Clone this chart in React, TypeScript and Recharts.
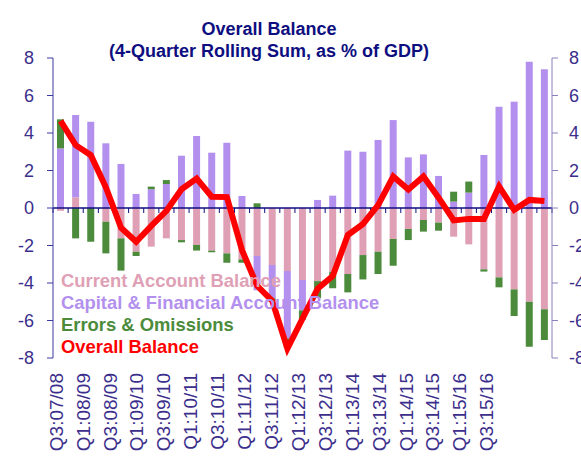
import React from 'react';
import * as Recharts from 'recharts';
import {
  ComposedChart,
  Bar,
  Line,
  XAxis,
  YAxis,
  ReferenceLine,
  Legend,
} from 'recharts';

const quarters = [
  'Q3:07/08', 'Q4:07/08', 'Q1:08/09', 'Q2:08/09', 'Q3:08/09', 'Q4:08/09',
  'Q1:09/10', 'Q2:09/10', 'Q3:09/10', 'Q4:09/10', 'Q1:10/11', 'Q2:10/11',
  'Q3:10/11', 'Q4:10/11', 'Q1:11/12', 'Q2:11/12', 'Q3:11/12', 'Q4:11/12',
  'Q1:12/13', 'Q2:12/13', 'Q3:12/13', 'Q4:12/13', 'Q1:13/14', 'Q2:13/14',
  'Q3:13/14', 'Q4:13/14', 'Q1:14/15', 'Q2:14/15', 'Q3:14/15', 'Q4:14/15',
  'Q1:15/16', 'Q2:15/16', 'Q3:15/16',
];

const currentAccount = [
  -0.15, 0.57, 0.0, -0.73, -1.62, -2.33, -2.06, -1.62, -1.71, -1.97, -2.27,
  -2.42, -2.74, -2.56, -3.04, -3.36, -3.84, -3.9, -3.4, -3.52, -2.51, -2.33,
  -1.65, -1.12, -0.64, -0.78, -1.53, -1.94, -3.27, -3.7, -4.34, -5.0, -5.4,
];

const capitalFinancial = [
  3.18, 4.39, 4.6, 3.45, 2.35, 0.75, 1.0, 1.28, 2.79, 3.84, 2.95,
  3.48, 0.64, -1.83, -1.78, -3.6, -1.62, 0.43, 0.66, 3.06, 3.0, 3.63,
  4.69, 2.7, 2.86, 1.71, 0.34, 0.82, 2.83, 5.4, 5.67, 7.8, 7.4,
];

const errorsOmissions = [
  1.55, -1.62, -1.8, -1.69, -1.72, -0.23, 0.14, 0.21, -0.12, -0.3, -0.09,
  -0.5, -0.18, 0.25, -0.12, -0.5, -0.5, -0.9, -0.88, -0.98, -1.3, -1.19,
  -1.43, -0.59, -0.62, -0.43, 0.53, 0.59, -0.12, -0.53, -1.42, -2.4, -1.64,
];

const overallBalance = [
  4.65, 3.35, 2.82, 1.1, -1.05, -1.8, -0.95, -0.15, 1.0, 1.57, 0.6,
  0.58, -2.25, -4.15, -4.95, -7.5, -5.9, -4.3, -3.63, -1.44, -0.85, 0.15,
  1.68, 0.98, 1.68, 0.55, -0.66, -0.58, -0.58, 1.15, -0.1, 0.43, 0.37,
];

const yTicks = [-8, -6, -4, -2, 0, 2, 4, 6, 8];

const PINK = '#DFA0B5';
const LAVENDER = '#B390EE';
const GREEN = '#4B8B3B';
const RED = '#FF0000';
const NAVY = '#0E0E80';
const TICK_TEXT = '#3B2E8C';
const FONT = 'Arial, "Liberation Sans", sans-serif';

const data = quarters.map((q, i) => ({
  q,
  ca: currentAccount[i],
  ka: capitalFinancial[i],
  eo: errorsOmissions[i],
  overall: overallBalance[i],
}));

const legendItems = [
  { label: 'Current Account Balance', color: PINK },
  { label: 'Capital & Financial Account Balance', color: LAVENDER },
  { label: 'Errors & Omissions', color: GREEN },
  { label: 'Overall Balance', color: RED },
];

const usePlotAreaSafe: () => any = (Recharts as any).usePlotArea ?? (() => null);

// little tick marks on the zero line, one at every category boundary
const ZeroLineTicks = () => {
  const plot = usePlotAreaSafe();
  if (!plot) return null;
  const n = quarters.length;
  const zeroY = plot.y + (plot.height * yTicks[yTicks.length - 1]) / (yTicks[yTicks.length - 1] - yTicks[0]);
  return (
    <g>
      {Array.from({ length: n + 1 }, (_, i) => {
        const x = plot.x + (i * plot.width) / n;
        return <line key={i} x1={x} x2={x} y1={zeroY} y2={zeroY + 5} stroke={NAVY} strokeWidth={1} />;
      })}
    </g>
  );
};

const QuarterTick = (props: any) => {
  const { x, y, payload } = props;
  return (
    <text
      x={x}
      y={y}
      transform={`rotate(-90, ${x}, ${y})`}
      textAnchor="end"
      fill={TICK_TEXT}
      fontSize={19}
      fontFamily={FONT}
    >
      {payload.value}
    </text>
  );
};

const LegendContent = () => (
  <div style={{ fontFamily: FONT, fontSize: 18.4, fontWeight: 'bold', lineHeight: '22px' }}>
    {legendItems.map((item) => (
      <div key={item.label} style={{ color: item.color, whiteSpace: 'nowrap' }}>
        {item.label}
      </div>
    ))}
  </div>
);

export default function App() {
  return (
    <div style={{ position: 'absolute', left: 0, top: 0, width: 581, height: 457, background: '#fff' }}>
      <div
        style={{
          position: 'absolute',
          left: 0,
          top: 18,
          width: 538,
          textAlign: 'center',
          fontFamily: FONT,
          fontSize: 18,
          fontWeight: 'bold',
          lineHeight: '22px',
          color: NAVY,
          zIndex: 2,
        }}
      >
        <div>Overall Balance</div>
        <div>(4-Quarter Rolling Sum, as % of GDP)</div>
      </div>
      <ComposedChart
        width={581}
        height={457}
        data={data}
        stackOffset="sign"
        margin={{ top: 58, right: 0, left: 0, bottom: 0 }}
      >
        <XAxis xAxisId="bars" dataKey="q" hide height={0} />
        <XAxis
          xAxisId="labels"
          dataKey="q"
          interval={1}
          height={99}
          padding={{ left: 3, right: 52 }}
          axisLine={false}
          tickLine={false}
          tickMargin={9}
          tick={<QuarterTick />}
        />
        <YAxis
          yAxisId="left"
          width={53}
          domain={[-8, 8]}
          ticks={yTicks}
          interval={0}
          axisLine={{ stroke: '#3A3A9E' }}
          tickLine={{ stroke: '#3A3A9E' }}
          tickMargin={13}
          tick={{ fill: TICK_TEXT, fontSize: 18, fontFamily: FONT }}
        />
        <YAxis
          yAxisId="right"
          orientation="right"
          width={29}
          domain={[-8, 8]}
          ticks={yTicks}
          interval={0}
          axisLine={{ stroke: '#8C80BC' }}
          tickLine={{ stroke: '#8C80BC' }}
          tickMargin={11}
          tick={{ fill: TICK_TEXT, fontSize: 18, fontFamily: FONT }}
        />
        <Legend
          layout="horizontal"
          verticalAlign="middle"
          align="center"
          content={<LegendContent />}
          wrapperStyle={{ position: 'absolute', left: 61, top: 270, width: 'auto' }}
        />
        <Bar xAxisId="bars" yAxisId="left" dataKey="ca" stackId="s" fill={PINK} barSize={7} isAnimationActive={false} />
        <Bar xAxisId="bars" yAxisId="left" dataKey="ka" stackId="s" fill={LAVENDER} barSize={7} isAnimationActive={false} />
        <Bar xAxisId="bars" yAxisId="left" dataKey="eo" stackId="s" fill={GREEN} barSize={7} isAnimationActive={false} />
        <ReferenceLine xAxisId="bars" yAxisId="left" y={0} stroke={NAVY} strokeWidth={1.5} />
        <ZeroLineTicks />
        <Line
          xAxisId="bars"
          yAxisId="right"
          type="linear"
          dataKey="overall"
          stroke={RED}
          strokeWidth={6}
          dot={false}
          activeDot={false}
          isAnimationActive={false}
        />
      </ComposedChart>
    </div>
  );
}
